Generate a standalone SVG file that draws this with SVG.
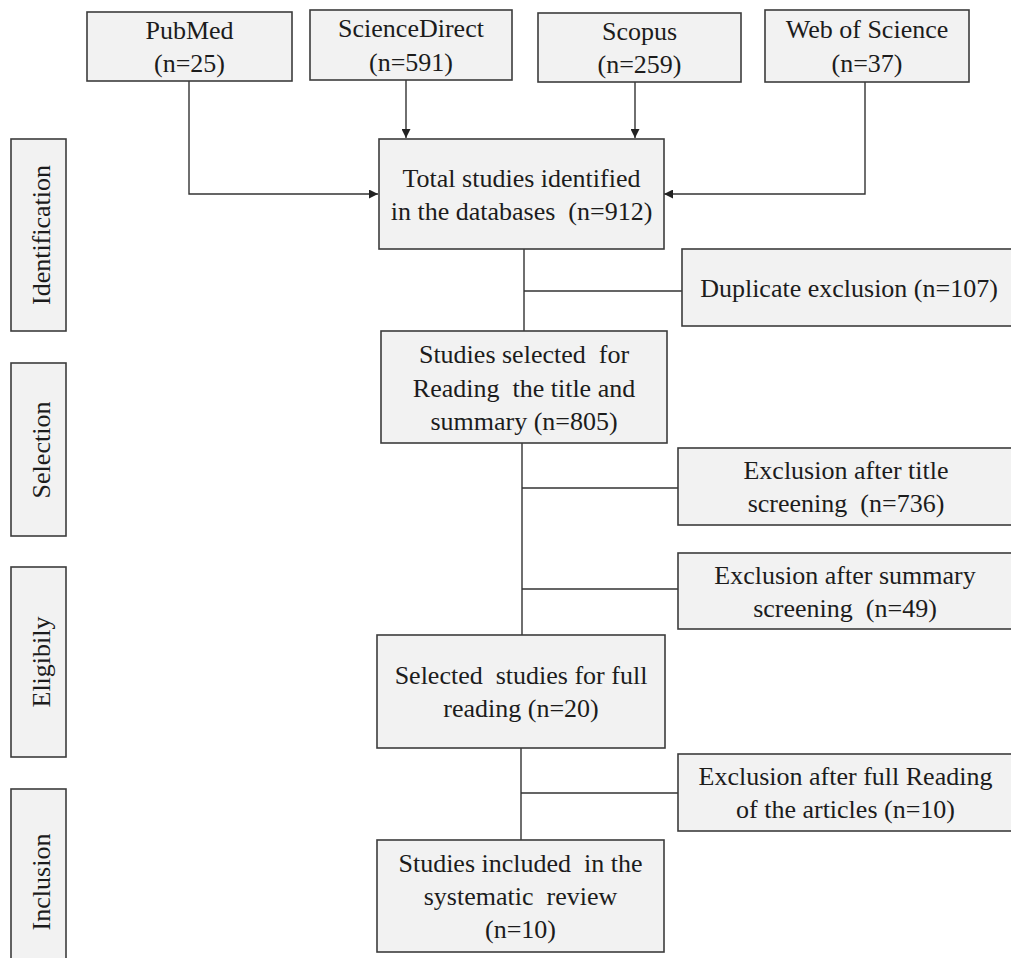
<svg xmlns="http://www.w3.org/2000/svg" width="1011" height="958" viewBox="0 0 1011 958">
<defs>
<style>
.box{fill:#f2f2f2;stroke:#3c3c3c;stroke-width:1.6}
.t{font-family:"Liberation Serif","Times New Roman",serif;font-size:26px;fill:#1c1c1c;text-anchor:middle}
.ln{fill:none;stroke:#333;stroke-width:1.4}
</style>
<marker id="ah" viewBox="0 0 10 10" refX="10" refY="5" markerWidth="9" markerHeight="9" markerUnits="userSpaceOnUse" orient="auto">
<path d="M0,0 L10,5 L0,10 Z" fill="#222"/>
</marker>
</defs>
<rect width="1011" height="958" fill="#fff"/>

<g id="connectors">
<path class="ln" d="M189,81 V194 H378" marker-end="url(#ah)"/>
<path class="ln" d="M406,80 V138" marker-end="url(#ah)"/>
<path class="ln" d="M635,82 V138" marker-end="url(#ah)"/>
<path class="ln" d="M865,82 V194 H664" marker-end="url(#ah)"/>
<path class="ln" d="M524,249 V331 M524,291 H682"/>
<path class="ln" d="M522,443 V635 M522,488 H678 M522,589 H678"/>
<path class="ln" d="M521,748 V840 M521,793 H678"/>
</g>

<g id="label-identification">
<rect class="box" x="11" y="139" width="55" height="192"/>
<text class="t" transform="translate(50,235) rotate(-90)">Identification</text>
</g>
<g id="label-selection">
<rect class="box" x="11" y="363" width="55" height="173"/>
<text class="t" transform="translate(50,450) rotate(-90)">Selection</text>
</g>
<g id="label-eligibily">
<rect class="box" x="11" y="567" width="55" height="190"/>
<text class="t" transform="translate(50,662) rotate(-90)">Eligibily</text>
</g>
<g id="label-inclusion">
<rect class="box" x="11" y="789" width="55" height="190"/>
<text class="t" transform="translate(50,882) rotate(-90)">Inclusion</text>
</g>

<g id="pubmed">
<rect class="box" x="87" y="12" width="205" height="69"/>
<text class="t" x="189.5" y="39">PubMed</text>
<text class="t" x="189.5" y="72">(n=25)</text>
</g>
<g id="sciencedirect">
<rect class="box" x="310" y="10" width="202" height="70"/>
<text class="t" x="411" y="37">ScienceDirect</text>
<text class="t" x="411" y="71">(n=591)</text>
</g>
<g id="scopus">
<rect class="box" x="538" y="13" width="203" height="69"/>
<text class="t" x="639.5" y="40">Scopus</text>
<text class="t" x="639.5" y="73">(n=259)</text>
</g>
<g id="webofscience">
<rect class="box" x="765" y="10" width="204" height="72"/>
<text class="t" x="867" y="38">Web of Science</text>
<text class="t" x="867" y="72">(n=37)</text>
</g>

<g id="total">
<rect class="box" x="379" y="139" width="285" height="110"/>
<text class="t" x="521.5" y="187">Total studies identified</text>
<text class="t" x="521.5" y="220" xml:space="preserve">in the databases  (n=912)</text>
</g>
<g id="duplicate">
<rect class="box" x="682" y="249" width="334" height="77"/>
<text class="t" x="849" y="297">Duplicate exclusion (n=107)</text>
</g>
<g id="selected-title">
<rect class="box" x="381" y="331" width="286" height="112"/>
<text class="t" x="524" y="363" xml:space="preserve">Studies selected  for</text>
<text class="t" x="524" y="397" xml:space="preserve">Reading  the title and</text>
<text class="t" x="524" y="430">summary (n=805)</text>
</g>
<g id="excl-title">
<rect class="box" x="678" y="448" width="338" height="77"/>
<text class="t" x="846" y="479">Exclusion after title</text>
<text class="t" x="846" y="512" xml:space="preserve">screening  (n=736)</text>
</g>
<g id="excl-summary">
<rect class="box" x="678" y="553" width="338" height="76"/>
<text class="t" x="845" y="584">Exclusion after summary</text>
<text class="t" x="845" y="617" xml:space="preserve">screening  (n=49)</text>
</g>
<g id="full-reading">
<rect class="box" x="377" y="635" width="288" height="113"/>
<text class="t" x="521" y="684" xml:space="preserve">Selected  studies for full</text>
<text class="t" x="521" y="717">reading (n=20)</text>
</g>
<g id="excl-full">
<rect class="box" x="678" y="754" width="338" height="77"/>
<text class="t" x="845.5" y="785">Exclusion after full Reading</text>
<text class="t" x="845.5" y="818">of the articles (n=10)</text>
</g>
<g id="included">
<rect class="box" x="377" y="840" width="287" height="112"/>
<text class="t" x="520.5" y="872" xml:space="preserve">Studies included  in the</text>
<text class="t" x="520.5" y="905" xml:space="preserve">systematic  review</text>
<text class="t" x="520.5" y="938">(n=10)</text>
</g>
</svg>
